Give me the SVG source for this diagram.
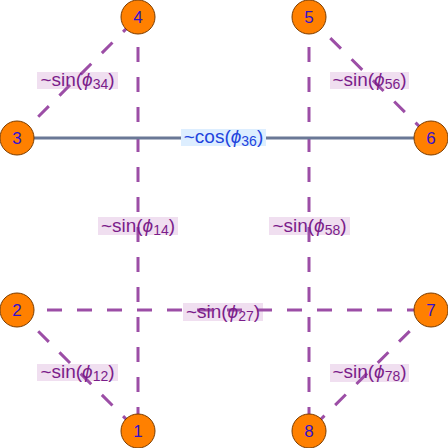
<svg xmlns="http://www.w3.org/2000/svg" width="448" height="448" viewBox="0 0 448 448">
<style>
.bg{fill:#ffffff}
.dash{stroke:#9c4ea6;stroke-width:3;stroke-dasharray:15 15;fill:none}
.solid{stroke:#6a7896;stroke-width:3;fill:none}
.lb{fill:#f0dff0}
.lbc{fill:#ddeeff}
.lt{font-family:"Liberation Sans",Arial,sans-serif;font-size:19px;fill:#7b1d8a;text-anchor:middle}
.ltc{font-family:"Liberation Sans",Arial,sans-serif;font-size:19px;fill:#2244dd;text-anchor:middle}
.phi{font-style:italic}
.sub{font-size:14px}
.node circle{fill:#ff8000;stroke:#7a3c00;stroke-width:1}
.node text{font-family:"Liberation Sans",Arial,sans-serif;font-size:17px;fill:#3311cc;text-anchor:middle}
</style>
<rect class="bg" x="0" y="0" width="448" height="448"/>
<g id="label-backgrounds">
<rect class="lb" x="37" y="72" width="81" height="17"/>
<rect class="lb" x="330" y="72" width="79" height="17"/>
<rect class="lbc" x="181" y="129" width="85" height="17"/>
<rect class="lb" x="98" y="217" width="80" height="18"/>
<rect class="lb" x="269" y="217" width="81" height="18"/>
<rect class="lb" x="183" y="303" width="80" height="18"/>
<rect class="lb" x="37" y="364" width="81" height="17"/>
<rect class="lb" x="330" y="364" width="79" height="18"/>
</g>
<g id="connectors">
<line class="dash" x1="17" y1="138" x2="138" y2="17"/>
<line class="dash" x1="309" y1="17" x2="431" y2="138"/>
<line class="dash" x1="138" y1="17" x2="138" y2="431"/>
<line class="dash" x1="309" y1="17" x2="309" y2="431"/>
<line class="dash" x1="17" y1="310" x2="431" y2="310"/>
<line class="dash" x1="17" y1="310" x2="138" y2="431"/>
<line class="dash" x1="431" y1="310" x2="309" y2="431"/>
<line class="solid" x1="17" y1="138" x2="181" y2="138"/>
<line class="solid" x1="266" y1="138" x2="431" y2="138"/>
</g>
<g id="labels">
<text class="lt" x="77.5" y="86">~sin(<tspan class="phi">ϕ</tspan><tspan class="sub" dy="3">34</tspan><tspan dy="-3">)</tspan></text>
<text class="lt" x="369.5" y="86">~sin(<tspan class="phi">ϕ</tspan><tspan class="sub" dy="3">56</tspan><tspan dy="-3">)</tspan></text>
<text class="ltc" x="223.5" y="143">~cos(<tspan class="phi">ϕ</tspan><tspan class="sub" dy="3">36</tspan><tspan dy="-3">)</tspan></text>
<text class="lt" x="138" y="231.5">~sin(<tspan class="phi">ϕ</tspan><tspan class="sub" dy="3">14</tspan><tspan dy="-3">)</tspan></text>
<text class="lt" x="309.5" y="231.5">~sin(<tspan class="phi">ϕ</tspan><tspan class="sub" dy="3">58</tspan><tspan dy="-3">)</tspan></text>
<text class="lt" x="223" y="317.5">~sin(<tspan class="phi">ϕ</tspan><tspan class="sub" dy="3">27</tspan><tspan dy="-3">)</tspan></text>
<text class="lt" x="77.5" y="378">~sin(<tspan class="phi">ϕ</tspan><tspan class="sub" dy="3">12</tspan><tspan dy="-3">)</tspan></text>
<text class="lt" x="369.5" y="378">~sin(<tspan class="phi">ϕ</tspan><tspan class="sub" dy="3">78</tspan><tspan dy="-3">)</tspan></text>
</g>
<g id="node1" class="node"><circle cx="138" cy="431" r="17"/><text x="138" y="437">1</text></g>
<g id="node2" class="node"><circle cx="17" cy="310" r="17"/><text x="17" y="316">2</text></g>
<g id="node3" class="node"><circle cx="17" cy="138" r="17"/><text x="17" y="144">3</text></g>
<g id="node4" class="node"><circle cx="138" cy="17" r="17"/><text x="138" y="23">4</text></g>
<g id="node5" class="node"><circle cx="309" cy="17" r="17"/><text x="309" y="23">5</text></g>
<g id="node6" class="node"><circle cx="431" cy="138" r="17"/><text x="431" y="144">6</text></g>
<g id="node7" class="node"><circle cx="431" cy="310" r="17"/><text x="431" y="316">7</text></g>
<g id="node8" class="node"><circle cx="309" cy="431" r="17"/><text x="309" y="437">8</text></g>
</svg>
